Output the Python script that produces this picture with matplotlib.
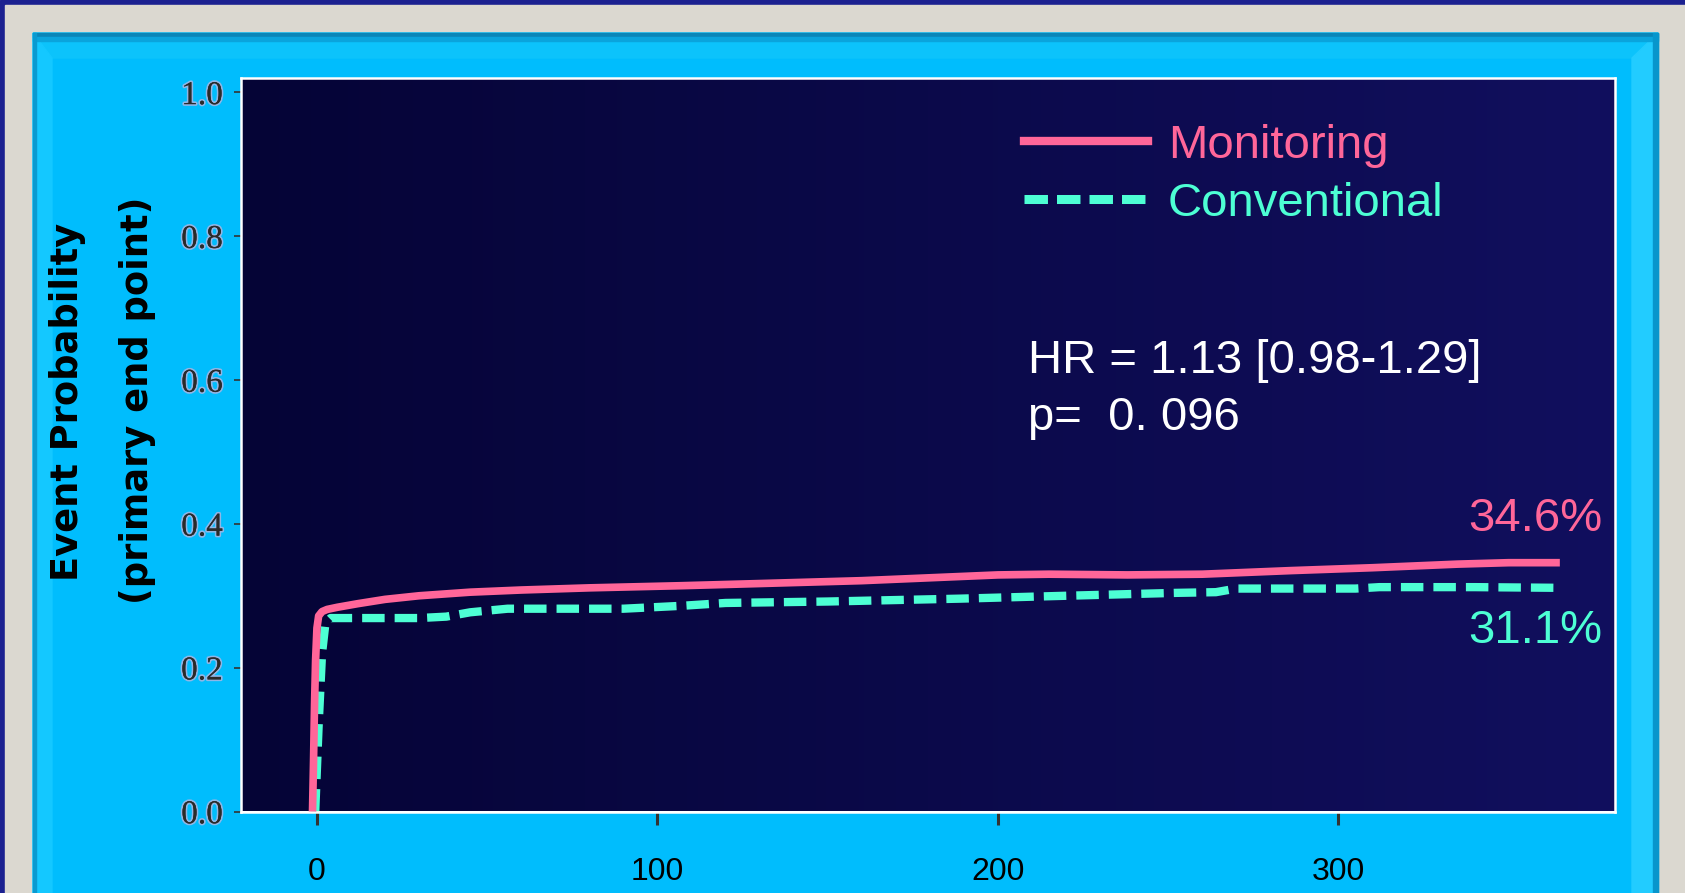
import numpy as np
import matplotlib
matplotlib.use("Agg")
import matplotlib.pyplot as plt
from matplotlib.colors import LinearSegmentedColormap
from matplotlib.patches import Rectangle, Polygon
from matplotlib.lines import Line2D
import matplotlib.patheffects as pe

# ---- data -------------------------------------------------------------
monitoring_days = [-1.3, -1.0, -0.7, -0.4, 0.0, 0.5, 1.5, 3, 6, 12, 20, 30, 45,
                   60, 80, 107, 130, 160, 185, 200, 215, 238, 260, 286, 310,
                   335, 350, 365]
monitoring_prob = [0.0, 0.07, 0.15, 0.21, 0.255, 0.272, 0.278, 0.281, 0.284,
                   0.289, 0.295, 0.300, 0.305, 0.308, 0.311, 0.314, 0.317,
                   0.321, 0.326, 0.329, 0.330, 0.329, 0.330, 0.335, 0.339,
                   0.344, 0.346, 0.346]

conventional_days = [-0.5, 0.5, 1.5, 2.5, 4, 15, 30, 38, 45, 56, 70, 90, 107,
                     120, 150, 189, 220, 252, 264, 270, 290, 305, 312, 340, 366]
conventional_prob = [0.0, 0.12, 0.22, 0.262, 0.269, 0.269, 0.269, 0.271, 0.277,
                     0.282, 0.282, 0.282, 0.286, 0.290, 0.292, 0.296, 0.300,
                     0.304, 0.305, 0.310, 0.310, 0.310, 0.312, 0.312, 0.311]

series_names = ["Monitoring", "Conventional"]
end_labels = ["34.6%", "31.1%"]
hr_text = "HR = 1.13 [0.98-1.29]"
p_text = "p=  0. 096"
x_ticks = [0, 100, 200, 300]
y_ticks = [0.0, 0.2, 0.4, 0.6, 0.8, 1.0]

PINK = "#ff6699"
AQUA = "#4dffd4"

W, H = 1685, 893
fig = plt.figure(figsize=(W / 100, H / 100), dpi=100)


def fx(x):
    return x / W


def fy(y):
    return 1 - y / H


# ---- slide frame --------------------------------------------------------
bg = fig.add_axes([0, 0, 1, 1])
bg.set_xlim(0, W)
bg.set_ylim(H, 0)
bg.axis("off")
bg.add_patch(Rectangle((0, 0), W, H, color="#1b2190", zorder=0))
bg.add_patch(Rectangle((5, 5), W, H, color="#dbd8d0", zorder=1))
bg.add_patch(Rectangle((33, 33), 1658 - 33, H, color="#00bdfd", zorder=2))
bg.add_patch(Polygon([(33, 33), (1658, 33), (1632, 58), (52, 58)],
                     closed=True, color="#0cc3fb", zorder=3))
bg.add_patch(Polygon([(33, 33), (52, 58), (52, H), (33, H)],
                     closed=True, color="#14c8ff", zorder=3))
bg.add_patch(Polygon([(1658, 33), (1632, 58), (1632, H), (1658, H)],
                     closed=True, color="#22ccff", zorder=3))
bg.add_patch(Rectangle((33, 33), 1658 - 33, 4, color="#0a86b8", zorder=4))
bg.add_patch(Rectangle((33, 37), 1658 - 33, 4, color="#0aa4dc", zorder=4))
bg.add_patch(Rectangle((1653, 33), 5, H, color="#0896cc", zorder=4))
bg.add_patch(Rectangle((33, 33), 3, H, color="#0a9ad0", zorder=4))

# ---- plot area ------------------------------------------------------------
left, right, top, bottom = 241, 1615, 78, 811.5
ax = fig.add_axes([fx(left), fy(bottom), fx(right - left), (bottom - top) / H])

xlim = (-22.3, 381.2)
ylim = (0.0, 1.02)
grad = LinearSegmentedColormap.from_list("panel", ["#050436", "#110f5e"])
ax.imshow(np.linspace(0, 1, 256)[None, :], cmap=grad, aspect="auto",
          extent=(xlim[0], xlim[1], ylim[0], ylim[1]), zorder=0)

ax.plot(conventional_days, conventional_prob, color=AQUA, lw=6,
        dashes=(2.7, 1.2), zorder=2)
ax.plot(monitoring_days, monitoring_prob, color=PINK, lw=5.5,
        solid_capstyle="butt", zorder=3)

ax.set_xlim(*xlim)
ax.set_ylim(*ylim)

for s in ax.spines.values():
    s.set_color("white")
    s.set_linewidth(1.8)

ax.set_xticks(x_ticks)
ax.set_xticklabels([str(t) for t in x_ticks], fontsize=23,
                   family="Liberation Sans", color="black")
ax.tick_params(axis="x", length=9.5, width=2.2, color="#333333", pad=23,
               direction="out")
ax.set_yticks(y_ticks)
ax.set_yticklabels([f"{t:.1f}" for t in y_ticks], fontsize=24,
                   family="Liberation Serif", color="#2a2a2a")
ax.tick_params(axis="y", length=5, width=1.2, color="#333333", pad=8,
               direction="out")
for lab in ax.get_yticklabels():
    lab.set_path_effects([pe.withStroke(linewidth=2.5, foreground="#8fb6e6"),
                          pe.Normal()])

# legend
handles = [Line2D([], [], color=PINK, lw=6),
           Line2D([], [], color=AQUA, lw=6.5, dashes=(2.6, 1.0))]
leg = ax.legend(handles, series_names, loc="upper left",
                bbox_to_anchor=((1024 - left) / (right - left),
                                1 - (124 - top) / (bottom - top)),
                frameon=False, borderpad=0, borderaxespad=0,
                handlelength=2.63, handletextpad=0.42, labelspacing=0.29,
                prop={"family": "Liberation Sans", "size": 34})
for txt, c in zip(leg.get_texts(), [PINK, AQUA]):
    txt.set_color(c)

# annotations
tf = dict(family="Liberation Sans", fontsize=34)
fig.text(fx(1028), fy(373), hr_text, color="white", va="baseline", ha="left", **tf)
fig.text(fx(1028), fy(430), p_text, color="white", va="baseline", ha="left", **tf)
fig.text(fx(1602), fy(531), end_labels[0], color=PINK, va="baseline", ha="right", **tf)
fig.text(fx(1602), fy(643), end_labels[1], color=AQUA, va="baseline", ha="right", **tf)

# y axis title, two lines
yl = dict(family="DejaVu Sans", fontweight="bold", fontsize=26.5,
          rotation=90, ha="center", va="center", color="black")
fig.text(fx(67), fy(402), "Event Probability", **yl)
fig.text(fx(137), fy(400), "(primary end point)", **yl)

# x axis title, running off the lower edge of the slide
fig.text(fx(830), fy(895), "Follow-up (days)", family="DejaVu Sans",
         fontweight="bold", fontsize=26.5, ha="center", va="top", color="black")

fig.savefig("out.png", dpi=100)
